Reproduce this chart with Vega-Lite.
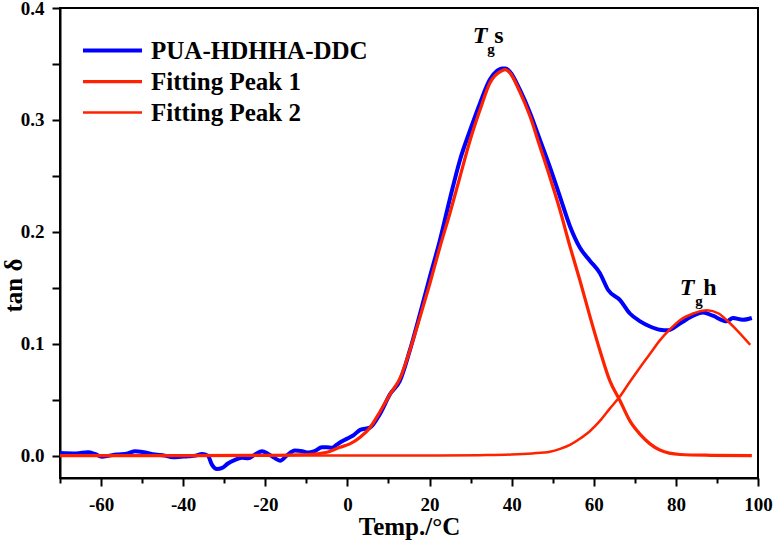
{
  "$schema": "https://vega.github.io/schema/vega-lite/v6.json",
  "width": 698,
  "height": 470,
  "autosize": "none",
  "padding": {"left": 60, "top": 8, "right": 16, "bottom": 62},
  "background": "white",
  "config": {
    "view": {"stroke": "black", "strokeWidth": 2},
    "font": "Liberation Serif",
    "axis": {
      "domainColor": "black", "domainWidth": 2, "tickColor": "black", "tickWidth": 2,
      "labelFont": "Liberation Serif", "labelFontWeight": "bold", "labelFontSize": 19, "labelColor": "black",
      "titleFont": "Liberation Serif", "titleFontWeight": "bold", "titleFontSize": 25, "titleColor": "black",
      "grid": false
    }
  },
  "datasets": {
    "curves": [
      {"series": "PUA-HDHHA-DDC", "temp": -70, "tan": 0.0024},
      {"series": "PUA-HDHHA-DDC", "temp": -66, "tan": 0.002},
      {"series": "PUA-HDHHA-DDC", "temp": -63.2, "tan": 0.003},
      {"series": "PUA-HDHHA-DDC", "temp": -61.5, "tan": 0.0015},
      {"series": "PUA-HDHHA-DDC", "temp": -59.8, "tan": -0.001},
      {"series": "PUA-HDHHA-DDC", "temp": -58, "tan": 0.0},
      {"series": "PUA-HDHHA-DDC", "temp": -56.1, "tan": 0.001},
      {"series": "PUA-HDHHA-DDC", "temp": -53.5, "tan": 0.002},
      {"series": "PUA-HDHHA-DDC", "temp": -51.7, "tan": 0.004},
      {"series": "PUA-HDHHA-DDC", "temp": -49.5, "tan": 0.003},
      {"series": "PUA-HDHHA-DDC", "temp": -46.9, "tan": 0.001},
      {"series": "PUA-HDHHA-DDC", "temp": -44.5, "tan": 0.0},
      {"series": "PUA-HDHHA-DDC", "temp": -42.5, "tan": -0.0015},
      {"series": "PUA-HDHHA-DDC", "temp": -40.5, "tan": -0.001},
      {"series": "PUA-HDHHA-DDC", "temp": -38.8, "tan": -0.0006},
      {"series": "PUA-HDHHA-DDC", "temp": -37, "tan": 0.0},
      {"series": "PUA-HDHHA-DDC", "temp": -35.4, "tan": 0.0015},
      {"series": "PUA-HDHHA-DDC", "temp": -34, "tan": 0.0},
      {"series": "PUA-HDHHA-DDC", "temp": -33, "tan": -0.008},
      {"series": "PUA-HDHHA-DDC", "temp": -31.8, "tan": -0.012},
      {"series": "PUA-HDHHA-DDC", "temp": -30.5, "tan": -0.011},
      {"series": "PUA-HDHHA-DDC", "temp": -29.1, "tan": -0.007},
      {"series": "PUA-HDHHA-DDC", "temp": -27.5, "tan": -0.004},
      {"series": "PUA-HDHHA-DDC", "temp": -25.7, "tan": -0.002},
      {"series": "PUA-HDHHA-DDC", "temp": -24.2, "tan": -0.0024},
      {"series": "PUA-HDHHA-DDC", "temp": -22.5, "tan": 0.001},
      {"series": "PUA-HDHHA-DDC", "temp": -20.8, "tan": 0.004},
      {"series": "PUA-HDHHA-DDC", "temp": -19.3, "tan": 0.0015},
      {"series": "PUA-HDHHA-DDC", "temp": -17.8, "tan": -0.002},
      {"series": "PUA-HDHHA-DDC", "temp": -16.4, "tan": -0.0045},
      {"series": "PUA-HDHHA-DDC", "temp": -14.8, "tan": 0.0},
      {"series": "PUA-HDHHA-DDC", "temp": -12.8, "tan": 0.0045},
      {"series": "PUA-HDHHA-DDC", "temp": -11, "tan": 0.004},
      {"series": "PUA-HDHHA-DDC", "temp": -9.6, "tan": 0.0027},
      {"series": "PUA-HDHHA-DDC", "temp": -8, "tan": 0.004},
      {"series": "PUA-HDHHA-DDC", "temp": -6.2, "tan": 0.0075},
      {"series": "PUA-HDHHA-DDC", "temp": -5, "tan": 0.0075},
      {"series": "PUA-HDHHA-DDC", "temp": -3.8, "tan": 0.007},
      {"series": "PUA-HDHHA-DDC", "temp": -2.5, "tan": 0.010},
      {"series": "PUA-HDHHA-DDC", "temp": -1.3, "tan": 0.0128},
      {"series": "PUA-HDHHA-DDC", "temp": 0.6, "tan": 0.0164},
      {"series": "PUA-HDHHA-DDC", "temp": 1.4, "tan": 0.018},
      {"series": "PUA-HDHHA-DDC", "temp": 3.1, "tan": 0.023},
      {"series": "PUA-HDHHA-DDC", "temp": 5.5, "tan": 0.025},
      {"series": "PUA-HDHHA-DDC", "temp": 7.9, "tan": 0.037},
      {"series": "PUA-HDHHA-DDC", "temp": 10.4, "tan": 0.055},
      {"series": "PUA-HDHHA-DDC", "temp": 12.8, "tan": 0.067},
      {"series": "PUA-HDHHA-DDC", "temp": 15.2, "tan": 0.094},
      {"series": "PUA-HDHHA-DDC", "temp": 17.7, "tan": 0.127},
      {"series": "PUA-HDHHA-DDC", "temp": 20.1, "tan": 0.16},
      {"series": "PUA-HDHHA-DDC", "temp": 22.5, "tan": 0.192},
      {"series": "PUA-HDHHA-DDC", "temp": 25.0, "tan": 0.23},
      {"series": "PUA-HDHHA-DDC", "temp": 27.4, "tan": 0.264},
      {"series": "PUA-HDHHA-DDC", "temp": 29.9, "tan": 0.291},
      {"series": "PUA-HDHHA-DDC", "temp": 32.3, "tan": 0.315},
      {"series": "PUA-HDHHA-DDC", "temp": 34.7, "tan": 0.336},
      {"series": "PUA-HDHHA-DDC", "temp": 36.5, "tan": 0.344},
      {"series": "PUA-HDHHA-DDC", "temp": 37.6, "tan": 0.346},
      {"series": "PUA-HDHHA-DDC", "temp": 38.5, "tan": 0.346},
      {"series": "PUA-HDHHA-DDC", "temp": 39.6, "tan": 0.343},
      {"series": "PUA-HDHHA-DDC", "temp": 42.0, "tan": 0.327},
      {"series": "PUA-HDHHA-DDC", "temp": 44.5, "tan": 0.306},
      {"series": "PUA-HDHHA-DDC", "temp": 46.9, "tan": 0.282},
      {"series": "PUA-HDHHA-DDC", "temp": 49.3, "tan": 0.258},
      {"series": "PUA-HDHHA-DDC", "temp": 51.8, "tan": 0.231},
      {"series": "PUA-HDHHA-DDC", "temp": 54.2, "tan": 0.205},
      {"series": "PUA-HDHHA-DDC", "temp": 56.6, "tan": 0.186},
      {"series": "PUA-HDHHA-DDC", "temp": 59.1, "tan": 0.174},
      {"series": "PUA-HDHHA-DDC", "temp": 61.5, "tan": 0.163},
      {"series": "PUA-HDHHA-DDC", "temp": 63.5, "tan": 0.148},
      {"series": "PUA-HDHHA-DDC", "temp": 66.4, "tan": 0.139},
      {"series": "PUA-HDHHA-DDC", "temp": 68.8, "tan": 0.127},
      {"series": "PUA-HDHHA-DDC", "temp": 71.3, "tan": 0.120},
      {"series": "PUA-HDHHA-DDC", "temp": 73.7, "tan": 0.1154},
      {"series": "PUA-HDHHA-DDC", "temp": 76.1, "tan": 0.1125},
      {"series": "PUA-HDHHA-DDC", "temp": 78.1, "tan": 0.112},
      {"series": "PUA-HDHHA-DDC", "temp": 81.0, "tan": 0.118},
      {"series": "PUA-HDHHA-DDC", "temp": 84.2, "tan": 0.125},
      {"series": "PUA-HDHHA-DDC", "temp": 86.6, "tan": 0.128},
      {"series": "PUA-HDHHA-DDC", "temp": 89.0, "tan": 0.125},
      {"series": "PUA-HDHHA-DDC", "temp": 92.4, "tan": 0.120},
      {"series": "PUA-HDHHA-DDC", "temp": 93.9, "tan": 0.123},
      {"series": "PUA-HDHHA-DDC", "temp": 96.3, "tan": 0.1214},
      {"series": "PUA-HDHHA-DDC", "temp": 98.5, "tan": 0.123},

      {"series": "Fitting Peak 1", "temp": -70, "tan": 0.0},
      {"series": "Fitting Peak 1", "temp": -40, "tan": 0.0},
      {"series": "Fitting Peak 1", "temp": -20, "tan": 0.0003},
      {"series": "Fitting Peak 1", "temp": -10, "tan": 0.001},
      {"series": "Fitting Peak 1", "temp": -5, "tan": 0.003},
      {"series": "Fitting Peak 1", "temp": -1.8, "tan": 0.0075},
      {"series": "Fitting Peak 1", "temp": 0.6, "tan": 0.0105},
      {"series": "Fitting Peak 1", "temp": 3.1, "tan": 0.0164},
      {"series": "Fitting Peak 1", "temp": 5.5, "tan": 0.025},
      {"series": "Fitting Peak 1", "temp": 7.9, "tan": 0.039},
      {"series": "Fitting Peak 1", "temp": 10.4, "tan": 0.055},
      {"series": "Fitting Peak 1", "temp": 12.8, "tan": 0.069},
      {"series": "Fitting Peak 1", "temp": 15.2, "tan": 0.094},
      {"series": "Fitting Peak 1", "temp": 17.7, "tan": 0.124},
      {"series": "Fitting Peak 1", "temp": 20.1, "tan": 0.154},
      {"series": "Fitting Peak 1", "temp": 22.5, "tan": 0.186},
      {"series": "Fitting Peak 1", "temp": 25.0, "tan": 0.217},
      {"series": "Fitting Peak 1", "temp": 27.4, "tan": 0.249},
      {"series": "Fitting Peak 1", "temp": 29.9, "tan": 0.282},
      {"series": "Fitting Peak 1", "temp": 32.3, "tan": 0.309},
      {"series": "Fitting Peak 1", "temp": 34.7, "tan": 0.333},
      {"series": "Fitting Peak 1", "temp": 37.6, "tan": 0.344},
      {"series": "Fitting Peak 1", "temp": 38.5, "tan": 0.345},
      {"series": "Fitting Peak 1", "temp": 39.6, "tan": 0.342},
      {"series": "Fitting Peak 1", "temp": 42.0, "tan": 0.325},
      {"series": "Fitting Peak 1", "temp": 44.5, "tan": 0.303},
      {"series": "Fitting Peak 1", "temp": 46.9, "tan": 0.276},
      {"series": "Fitting Peak 1", "temp": 49.3, "tan": 0.249},
      {"series": "Fitting Peak 1", "temp": 51.8, "tan": 0.219},
      {"series": "Fitting Peak 1", "temp": 54.2, "tan": 0.187},
      {"series": "Fitting Peak 1", "temp": 56.6, "tan": 0.157},
      {"series": "Fitting Peak 1", "temp": 59.1, "tan": 0.124},
      {"series": "Fitting Peak 1", "temp": 61.5, "tan": 0.094},
      {"series": "Fitting Peak 1", "temp": 63.9, "tan": 0.067},
      {"series": "Fitting Peak 1", "temp": 66.4, "tan": 0.049},
      {"series": "Fitting Peak 1", "temp": 68.8, "tan": 0.031},
      {"series": "Fitting Peak 1", "temp": 71.3, "tan": 0.019},
      {"series": "Fitting Peak 1", "temp": 73.7, "tan": 0.0105},
      {"series": "Fitting Peak 1", "temp": 76.1, "tan": 0.005},
      {"series": "Fitting Peak 1", "temp": 81.0, "tan": 0.001},
      {"series": "Fitting Peak 1", "temp": 88.5, "tan": 0.0003},
      {"series": "Fitting Peak 1", "temp": 98.5, "tan": 0.0},

      {"series": "Fitting Peak 2", "temp": -70, "tan": 0.0},
      {"series": "Fitting Peak 2", "temp": 20, "tan": 0.0},
      {"series": "Fitting Peak 2", "temp": 32, "tan": 0.0004},
      {"series": "Fitting Peak 2", "temp": 40, "tan": 0.001},
      {"series": "Fitting Peak 2", "temp": 45, "tan": 0.002},
      {"series": "Fitting Peak 2", "temp": 49.3, "tan": 0.0035},
      {"series": "Fitting Peak 2", "temp": 51.8, "tan": 0.006},
      {"series": "Fitting Peak 2", "temp": 54.2, "tan": 0.0095},
      {"series": "Fitting Peak 2", "temp": 56.6, "tan": 0.015},
      {"series": "Fitting Peak 2", "temp": 59.1, "tan": 0.022},
      {"series": "Fitting Peak 2", "temp": 61.5, "tan": 0.031},
      {"series": "Fitting Peak 2", "temp": 63.9, "tan": 0.042},
      {"series": "Fitting Peak 2", "temp": 66.4, "tan": 0.053},
      {"series": "Fitting Peak 2", "temp": 68.8, "tan": 0.066},
      {"series": "Fitting Peak 2", "temp": 71.3, "tan": 0.079},
      {"series": "Fitting Peak 2", "temp": 73.7, "tan": 0.091},
      {"series": "Fitting Peak 2", "temp": 76.1, "tan": 0.103},
      {"series": "Fitting Peak 2", "temp": 78.6, "tan": 0.113},
      {"series": "Fitting Peak 2", "temp": 81.0, "tan": 0.121},
      {"series": "Fitting Peak 2", "temp": 84.2, "tan": 0.127},
      {"series": "Fitting Peak 2", "temp": 87.6, "tan": 0.130},
      {"series": "Fitting Peak 2", "temp": 90.4, "tan": 0.127},
      {"series": "Fitting Peak 2", "temp": 92.4, "tan": 0.121},
      {"series": "Fitting Peak 2", "temp": 94.9, "tan": 0.112},
      {"series": "Fitting Peak 2", "temp": 98.1, "tan": 0.099}
    ],
    "labels": [
      {"label": "Tgs", "part": "T", "text": "T", "temp": 32.3, "tan": 0.3687},
      {"label": "Tgs", "part": "sub", "text": "g", "temp": 35.0, "tan": 0.3585},
      {"label": "Tgs", "part": "main", "text": "s", "temp": 36.9, "tan": 0.3687},
      {"label": "Tgh", "part": "T", "text": "T", "temp": 82.7, "tan": 0.1432},
      {"label": "Tgh", "part": "sub", "text": "g", "temp": 85.6, "tan": 0.1335},
      {"label": "Tgh", "part": "main", "text": "h", "temp": 88.3, "tan": 0.1432}
    ]
  },
  "layer": [
    {
      "data": {"name": "curves"},
      "mark": {"type": "line", "interpolate": "monotone", "clip": true},
      "encoding": {
        "x": {
          "field": "temp", "type": "quantitative",
          "scale": {"domain": [-70, 100], "nice": false, "zero": false},
          "axis": {
            "title": "Temp./°C",
            "values": [-70, -60, -50, -40, -30, -20, -10, 0, 10, 20, 30, 40, 50, 60, 70, 80, 90, 100],
            "labelExpr": "datum.value % 20 === 0 ? '' + datum.value : ''",
            "tickSize": {"condition": {"test": "datum.value % 20 === 0", "value": 8}, "value": 5},
            "labelPadding": 9,
            "titlePadding": 0,
            "labelFlush": false,
            "labelOverlap": false
          }
        },
        "y": {
          "field": "tan", "type": "quantitative",
          "scale": {"domain": [-0.02, 0.4], "nice": false, "zero": false},
          "axis": {
            "title": "tan δ",
            "values": [0, 0.05, 0.1, 0.15, 0.2, 0.25, 0.3, 0.35, 0.4],
            "labelExpr": "abs(datum.value * 10 - round(datum.value * 10)) < 0.000001 ? format(datum.value, '.1f') : ''",
            "tickSize": 8,
            "labelPadding": 8,
            "labelFlush": false,
            "labelOverlap": false,
            "titleX": -47,
            "titleY": 277,
            "titleAngle": 270,
            "titleAlign": "center",
            "titleBaseline": "middle"
          }
        },
        "color": {
          "field": "series", "type": "nominal",
          "scale": {"domain": ["PUA-HDHHA-DDC", "Fitting Peak 1", "Fitting Peak 2"], "range": ["#0000ff", "#ff2200", "#ff2200"]},
          "legend": {
            "title": null, "orient": "none", "legendX": 40, "legendY": 30,
            "symbolType": "M-3,0H3", "symbolSize": 387, "symbolFillColor": "transparent",
            "labelFont": "Liberation Serif", "labelFontWeight": "bold", "labelFontSize": 25, "labelColor": "black",
            "labelLimit": 0, "labelOffset": 26, "padding": 0, "rowPadding": 5,
            "encode": {"symbols": {"update": {"strokeWidth": {"signal": "datum.value === 'PUA-HDHHA-DDC' ? 4 : 2.5"}}}}
          }
        },
        "strokeWidth": {
          "field": "series", "type": "nominal",
          "scale": {"domain": ["PUA-HDHHA-DDC", "Fitting Peak 1", "Fitting Peak 2"], "range": [4, 2.5, 2.5]},
          "legend": null
        }
      }
    },
    {
      "data": {"name": "labels"},
      "transform": [{"filter": "datum.part === 'T'"}],
      "mark": {"type": "text", "font": "Liberation Serif", "fontStyle": "italic", "fontWeight": "bold", "fontSize": 24, "align": "center", "baseline": "alphabetic", "color": "black"},
      "encoding": {
        "x": {"field": "temp", "type": "quantitative"},
        "y": {"field": "tan", "type": "quantitative"},
        "text": {"field": "text"}
      }
    },
    {
      "data": {"name": "labels"},
      "transform": [{"filter": "datum.part === 'sub'"}],
      "mark": {"type": "text", "font": "Liberation Serif", "fontWeight": "bold", "fontSize": 15, "align": "center", "baseline": "alphabetic", "color": "black"},
      "encoding": {
        "x": {"field": "temp", "type": "quantitative"},
        "y": {"field": "tan", "type": "quantitative"},
        "text": {"field": "text"}
      }
    },
    {
      "data": {"name": "labels"},
      "transform": [{"filter": "datum.part === 'main'"}],
      "mark": {"type": "text", "font": "Liberation Serif", "fontWeight": "bold", "fontSize": 24, "align": "center", "baseline": "alphabetic", "color": "black"},
      "encoding": {
        "x": {"field": "temp", "type": "quantitative"},
        "y": {"field": "tan", "type": "quantitative"},
        "text": {"field": "text"}
      }
    }
  ]
}
